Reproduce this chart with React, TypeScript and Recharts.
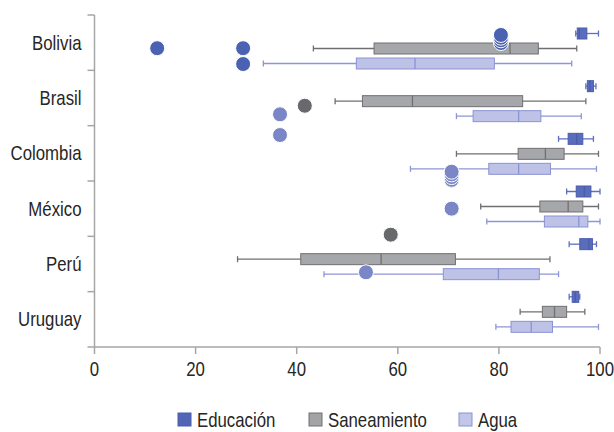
import { ComposedChart, Bar, Scatter, XAxis, YAxis, Legend } from "recharts";

const PAISES = ["Bolivia", "Brasil", "Colombia", "México", "Perú", "Uruguay"];
const X_TICKS = [0, 20, 40, 60, 80, 100];

// [mín, Q1, mediana, Q3, máx] por país
const EDUCACION = [
  [95.2, 95.5, 95.9, 97.4, 99.7],
  [97.2, 97.5, 98.0, 98.7, 99.2],
  [91.8, 93.7, 95.4, 96.6, 98.7],
  [93.4, 95.3, 96.9, 98.2, 100],
  [93.9, 96.0, 97.8, 98.5, 99.3],
  [93.9, 94.5, 95.1, 95.8, 96.0],
];
const SANEAMIENTO = [
  [43.3, 55.3, 82.2, 87.8, 95.4],
  [47.6, 53.0, 62.9, 84.7, 97.2],
  [71.6, 83.8, 89.2, 92.9, 99.7],
  [76.4, 88.1, 93.7, 96.6, 99.7],
  [28.3, 40.8, 56.7, 71.4, 90.1],
  [84.2, 88.6, 91.0, 93.4, 97.0],
];
const AGUA = [
  [33.4, 51.8, 63.4, 79.1, 94.4],
  [71.6, 74.9, 83.9, 88.3, 96.3],
  [62.5, 78.0, 83.9, 90.2, 99.3],
  [77.6, 89.0, 95.8, 97.6, 100],
  [45.4, 69.0, 79.9, 88.0, 91.8],
  [79.4, 82.4, 86.4, 90.6, 99.7],
];

// atípicos: [valor, posición vertical en filas desde arriba]
const ATIPICOS_EDUCACION = [
  [12.4, 0.6], [29.4, 0.6], [29.4, 0.886],
  [80.4, 0.506], [80.4, 0.457], [80.4, 0.41], [80.4, 0.361],
];
const ATIPICOS_SANEAMIENTO = [[41.6, 1.64], [58.6, 3.97]];
const ATIPICOS_AGUA = [
  [36.7, 1.795], [36.7, 2.169],
  [70.65, 2.98], [70.65, 2.93], [70.65, 2.88], [70.65, 2.832],
  [70.65, 3.5], [53.7, 4.65],
];

const SERIES = [
  { key: "educacion", name: "Educación", stats: EDUCACION, fill: "#5a6cbc", stroke: "#4a5cae", whisker: "#5d6fc0", dot: "#4a62b1", swatch: "#5366b6" },
  { key: "saneamiento", name: "Saneamiento", stats: SANEAMIENTO, fill: "#a6a7aa", stroke: "#707073", whisker: "#6f6f71", dot: "#68696c", swatch: "#a3a3a6" },
  { key: "agua", name: "Agua", stats: AGUA, fill: "#bec2e6", stroke: "#8a93d3", whisker: "#8d96d6", dot: "#7b86c6", swatch: "#c2c6e8" },
];

const FONT = "'Liberation Sans', Arial, sans-serif";
const NARROW = 0.84; // texto condensado
const AXIS = "#a6a6a6";
const TEXT = "#262626";

const rows = PAISES.map((pais, i) => {
  const row: Record<string, any> = { pais };
  SERIES.forEach((s) => {
    row[s.key] = [s.stats[i][0], s.stats[i][4]];
  });
  return row;
});

const toPoints = (list: number[][]) => list.map(([x, y]) => ({ x, y }));

// caja y bigotes dentro de la barra de rango [mín, máx]
function makeBox(s: (typeof SERIES)[number]) {
  return (props: any) => {
    const { x, y, width, height, index } = props;
    const [lo, q1, med, q3, hi] = s.stats[index];
    const px = (v: number) => x + ((v - lo) / (hi - lo)) * width;
    const cy = y + height / 2;
    return (
      <g>
        <line x1={x} x2={x + width} y1={cy} y2={cy} stroke={s.whisker} strokeWidth={1.3} />
        <line x1={x} x2={x} y1={cy - 3} y2={cy + 3} stroke={s.whisker} strokeWidth={1.3} />
        <line x1={x + width} x2={x + width} y1={cy - 3} y2={cy + 3} stroke={s.whisker} strokeWidth={1.3} />
        <rect x={px(q1)} y={y} width={px(q3) - px(q1)} height={height} fill={s.fill} stroke={s.stroke} strokeWidth={1} />
        <line x1={px(med)} x2={px(med)} y1={y} y2={y + height} stroke={s.stroke} strokeWidth={1.3} />
      </g>
    );
  };
}

function makeDot(color: string) {
  return (props: any) => (
    <circle cx={props.cx} cy={props.cy} r={7.5} fill={color} stroke="#ffffff" strokeWidth={1} />
  );
}

function NarrowText({ x, y, anchor, children, dy }: any) {
  return (
    <text
      transform={`translate(${x},${y}) scale(${NARROW},1)`}
      textAnchor={anchor}
      dy={dy}
      fontFamily={FONT}
      fontSize={20}
      fill={TEXT}
    >
      {children}
    </text>
  );
}

function PaisTick(props: any) {
  const { x, y, payload } = props;
  const v = payload.value;
  if (Number.isInteger(v)) {
    return <line x1={x + 6} x2={x + 13} y1={y} y2={y} stroke={AXIS} strokeWidth={1.5} />;
  }
  return (
    <NarrowText x={x} y={y} anchor="end" dy="0.35em">
      {PAISES[Math.floor(v)]}
    </NarrowText>
  );
}

function ValorTick(props: any) {
  const { x, y, payload } = props;
  return (
    <NarrowText x={x} y={y} anchor="middle" dy="0.71em">
      {payload.value}
    </NarrowText>
  );
}

const LEGEND_X = [178, 309, 459];

function Leyenda() {
  return (
    <svg width={614} height={45} style={{ overflow: "visible", display: "block" }}>
      {SERIES.map((s, i) => (
        <g key={s.key}>
          <rect x={LEGEND_X[i]} y={26} width={13} height={13} fill={s.swatch} stroke={s.stroke} strokeWidth={1} />
          <NarrowText x={LEGEND_X[i] + 19} y={32.5} anchor="start" dy="0.35em">
            {s.name}
          </NarrowText>
        </g>
      ))}
    </svg>
  );
}

const yTicks = Array.from({ length: 13 }, (_, i) => i / 2);

export default function App() {
  return (
    <div style={{ position: "absolute", left: 0, top: 0, background: "#fff" }}>
      <ComposedChart
        width={614}
        height={432}
        data={rows}
        layout="vertical"
        margin={{ top: 15, right: 14, bottom: 5, left: 0 }}
        barSize={11}
        barGap={4}
      >
        <XAxis
          type="number"
          domain={[0, 100]}
          ticks={X_TICKS}
          interval={0}
          height={40}
          stroke={AXIS}
          strokeWidth={1.5}
          tickSize={7}
          tickMargin={8}
          tick={<ValorTick />}
        />
        <XAxis xAxisId="sx" type="number" dataKey="x" domain={[0, 100]} hide />
        <YAxis
          yAxisId="num"
          type="number"
          dataKey="y"
          domain={[0, 6]}
          ticks={yTicks}
          interval={0}
          width={94.5}
          stroke={AXIS}
          strokeWidth={1.5}
          tickLine={false}
          tickSize={7}
          tickMargin={6}
          tick={<PaisTick />}
        />
        <YAxis yAxisId="cat" type="category" dataKey="pais" hide width={0} padding={{ top: 7, bottom: 9 }} />
        {SERIES.map((s) => (
          <Bar
            key={s.key}
            dataKey={s.key}
            name={s.name}
            yAxisId="cat"
            fill={s.fill}
            shape={makeBox(s)}
            isAnimationActive={false}
          />
        ))}
        <Scatter data={toPoints(ATIPICOS_EDUCACION)} xAxisId="sx" yAxisId="num" shape={makeDot(SERIES[0].dot)} isAnimationActive={false} />
        <Scatter data={toPoints(ATIPICOS_SANEAMIENTO)} xAxisId="sx" yAxisId="num" shape={makeDot(SERIES[1].dot)} isAnimationActive={false} />
        <Scatter data={toPoints(ATIPICOS_AGUA)} xAxisId="sx" yAxisId="num" shape={makeDot(SERIES[2].dot)} isAnimationActive={false} />
        <Legend verticalAlign="bottom" height={40} wrapperStyle={{ left: 0, width: 614, overflow: "visible" }} content={<Leyenda />} />
      </ComposedChart>
    </div>
  );
}
